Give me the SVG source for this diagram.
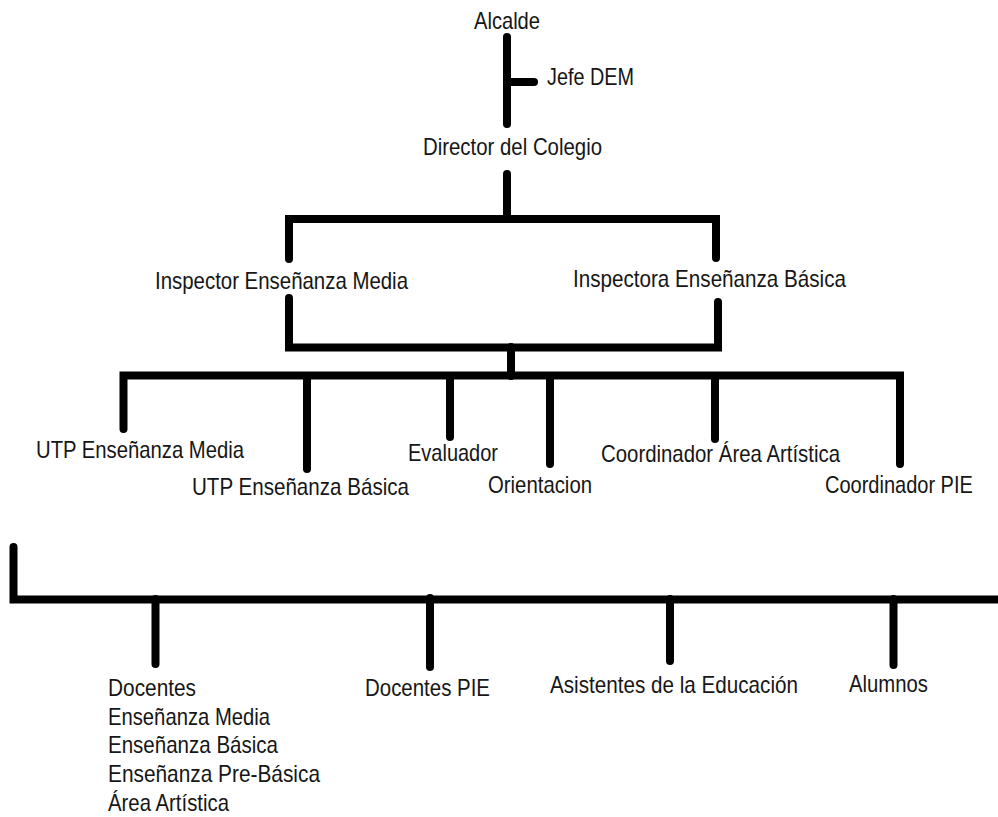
<svg xmlns="http://www.w3.org/2000/svg" width="998" height="817" viewBox="0 0 998 817">
<style>
  text { font-family: "Liberation Sans", Arial, sans-serif; font-size: 24px; fill: #161616; }
  .ln { fill: none; stroke: #000; stroke-width: 8; stroke-linecap: round; stroke-linejoin: miter; }
</style>
<rect width="998" height="817" fill="#fff"/>
<g id="connectors">
  <path class="ln" d="M507,37 V124"/>
  <path class="ln" d="M507,82 H534"/>
  <path class="ln" d="M507,174 V219"/>
  <path class="ln" d="M289,259 V219 H716 V258"/>
  <path class="ln" d="M289,298 V347.5 H718 V302"/>
  <path class="ln" d="M511,347 V376"/>
  <path class="ln" d="M123.5,429 V375.5 H900 V464"/>
  <path class="ln" d="M307,376 V469"/>
  <path class="ln" d="M450,376 V437"/>
  <path class="ln" d="M550,376 V464"/>
  <path class="ln" d="M715,376 V439"/>
  <path class="ln" d="M13.5,547 V599.5 H1004"/>
  <path class="ln" d="M155.5,599 V664"/>
  <path class="ln" d="M430,598 V667"/>
  <path class="ln" d="M670,599 V661"/>
  <path class="ln" d="M893.5,599 V665"/>
</g>
<g id="alcalde"><text x="474" y="29" textLength="66" lengthAdjust="spacingAndGlyphs">Alcalde</text></g>
<g id="jefe-dem"><text x="547" y="85" textLength="87" lengthAdjust="spacingAndGlyphs">Jefe DEM</text></g>
<g id="director"><text x="423" y="155" textLength="179" lengthAdjust="spacingAndGlyphs">Director del Colegio</text></g>
<g id="inspector-media"><text x="155" y="289" textLength="253" lengthAdjust="spacingAndGlyphs">Inspector Enseñanza Media</text></g>
<g id="inspectora-basica"><text x="573" y="287" textLength="273" lengthAdjust="spacingAndGlyphs">Inspectora Enseñanza Básica</text></g>
<g id="utp-media"><text x="36" y="458" textLength="208" lengthAdjust="spacingAndGlyphs">UTP Enseñanza Media</text></g>
<g id="utp-basica"><text x="192" y="495" textLength="217" lengthAdjust="spacingAndGlyphs">UTP Enseñanza Básica</text></g>
<g id="evaluador"><text x="408" y="461" textLength="90" lengthAdjust="spacingAndGlyphs">Evaluador</text></g>
<g id="orientacion"><text x="488" y="493" textLength="104" lengthAdjust="spacingAndGlyphs">Orientacion</text></g>
<g id="coord-artistica"><text x="601" y="462" textLength="239" lengthAdjust="spacingAndGlyphs">Coordinador Área Artística</text></g>
<g id="coord-pie"><text transform="translate(825,493) scale(0.834,1)" x="0" y="0">Coordinador PIE</text></g>
<g id="docentes">
  <text x="108" y="696" textLength="88" lengthAdjust="spacingAndGlyphs">Docentes</text>
  <text x="108" y="724.5" textLength="162" lengthAdjust="spacingAndGlyphs">Enseñanza Media</text>
  <text x="108" y="753" textLength="170" lengthAdjust="spacingAndGlyphs">Enseñanza Básica</text>
  <text x="108" y="782" textLength="212" lengthAdjust="spacingAndGlyphs">Enseñanza Pre-Básica</text>
  <text x="108" y="810.5" textLength="121" lengthAdjust="spacingAndGlyphs">Área Artística</text>
</g>
<g id="docentes-pie"><text x="365" y="696" textLength="125" lengthAdjust="spacingAndGlyphs">Docentes PIE</text></g>
<g id="asistentes"><text x="550" y="693" textLength="248" lengthAdjust="spacingAndGlyphs">Asistentes de la Educación</text></g>
<g id="alumnos"><text x="849" y="692" textLength="79" lengthAdjust="spacingAndGlyphs">Alumnos</text></g>
</svg>
